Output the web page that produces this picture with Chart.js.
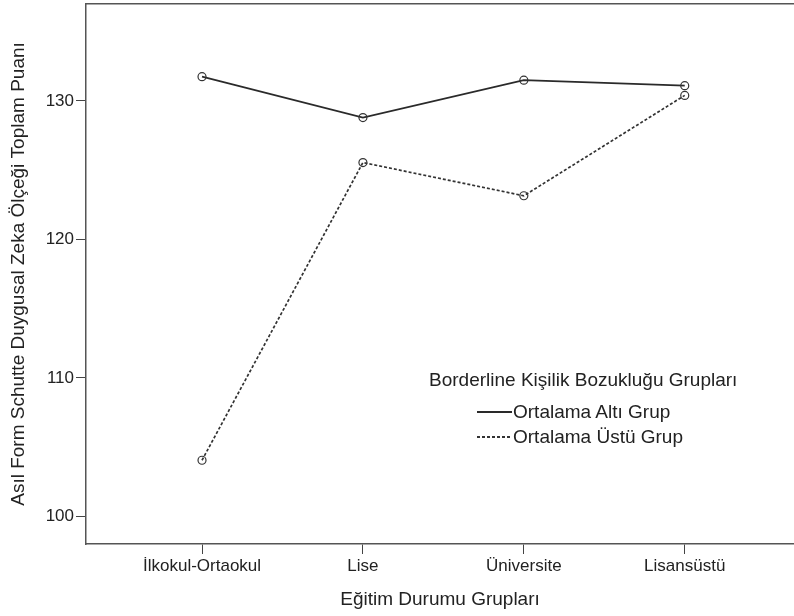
<!DOCTYPE html>
<html>
<head>
<meta charset="utf-8">
<script src="https://cdn.jsdelivr.net/npm/chart.js@4"></script>
<style>
  body { margin: 0; background: #fff; overflow: hidden; }
  #wrap { position: relative; width: 794px; height: 616px; }
  #legend {
    position: absolute; left: 429px; top: 369px;
    font-family: "Liberation Sans", Arial, sans-serif; font-size: 19px; color: #222;
  }
  #legend .title { line-height: 22px; margin-bottom: 8px; }
  #legend .row { display: flex; align-items: center; height: 25px; margin-left: 48px; }
  #legend .sample { width: 35px; height: 2px; margin-right: 1px; }
</style>
</head>
<body>
<div id="wrap">
  <canvas id="chart" width="794" height="616"></canvas>
  <div id="legend"></div>
</div>
<script>
const categories = ["İlkokul-Ortaokul", "Lise", "Üniversite", "Lisansüstü"];
const altiGrup = [131.75, 128.8, 131.5, 131.1];
const ustuGrup = [104.05, 125.55, 123.15, 130.4];
const yTicks = [100, 110, 120, 130];
const seriesNames = ["Ortalama Altı Grup", "Ortalama Üstü Grup"];
const legendTitle = "Borderline Kişilik Bozukluğu Grupları";

const FONT = "'Liberation Sans', Arial, sans-serif";
const ink = "#222";

function toPoints(values) {
  return values.map((v, i) => ({ x: i, y: v }));
}

// no automatic label padding, the plot edges are fixed
function noPad(scale) {
  scale.paddingTop = 0;
  scale.paddingBottom = 0;
  scale.paddingLeft = 0;
  scale.paddingRight = 0;
}

const chart = new Chart(document.getElementById("chart").getContext("2d"), {
  type: "line",
  data: {
    datasets: [
      {
        label: seriesNames[0],
        data: toPoints(altiGrup),
        borderColor: "#2a2a2a",
        borderWidth: 1.7,
        pointRadius: 4,
        pointBorderWidth: 1.2,
        pointBorderColor: "#333",
        pointBackgroundColor: "rgba(0,0,0,0)",
        tension: 0,
      },
      {
        label: seriesNames[1],
        data: toPoints(ustuGrup),
        borderColor: "#333",
        borderWidth: 1.7,
        borderDash: [3, 2],
        pointRadius: 4,
        pointBorderWidth: 1.2,
        pointBorderColor: "#333",
        pointBackgroundColor: "rgba(0,0,0,0)",
        tension: 0,
      },
    ],
  },
  options: {
    responsive: false,
    animation: false,
    layout: { autoPadding: false, padding: { top: 4, right: 0, left: 0, bottom: 0 } },
    plugins: { legend: { display: false }, tooltip: { enabled: false } },
    scales: {
      x: {
        type: "linear",
        position: "bottom",
        min: -0.721,
        max: 3.679,
        afterBuildTicks: (scale) => {
          scale.ticks = categories.map((c, i) => ({ value: i }));
        },
        afterFit: (scale) => {
          scale.height = 72;
          noPad(scale);
        },
        ticks: {
          callback: (v) => categories[v],
          font: { family: FONT, size: 17 },
          color: ink,
          padding: 2,
          maxRotation: 0,
          autoSkip: false,
        },
        grid: { drawOnChartArea: false, drawTicks: true, tickLength: 10, color: "#444" },
        border: { display: true, color: "#555", width: 1.5 },
        title: {
          display: true,
          text: "Eğitim Durumu Grupları",
          font: { family: FONT, size: 19 },
          color: ink,
          padding: { top: 0, bottom: 5 },
        },
      },
      xTop: {
        type: "linear",
        position: "top",
        min: -0.721,
        max: 3.679,
        afterFit: (scale) => {
          scale.height = 0;
          noPad(scale);
        },
        ticks: { display: false },
        grid: { drawOnChartArea: false, drawTicks: false },
        border: { display: true, color: "#555", width: 1.5 },
      },
      y: {
        min: 98,
        max: 137,
        afterBuildTicks: (scale) => {
          scale.ticks = yTicks.map((v) => ({ value: v }));
        },
        afterFit: (scale) => {
          scale.width = 86;
          noPad(scale);
        },
        ticks: {
          font: { family: FONT, size: 17 },
          color: ink,
          padding: 2,
        },
        grid: { drawOnChartArea: false, drawTicks: true, tickLength: 10, color: "#444" },
        border: { display: true, color: "#555", width: 1.5 },
        title: {
          display: true,
          text: "Asıl Form Schutte Duygusal Zeka Ölçeği Toplam Puanı",
          font: { family: FONT, size: 19 },
          color: ink,
          padding: { top: 7, bottom: 0 },
        },
      },
    },
  },
});

// legend placed inside the plot like the original
const legendEl = document.getElementById("legend");
const t = document.createElement("div");
t.className = "title";
t.textContent = legendTitle;
legendEl.appendChild(t);
chart.data.datasets.forEach((ds) => {
  const row = document.createElement("div");
  row.className = "row";
  const s = document.createElement("span");
  s.className = "sample";
  s.style.background = ds.borderDash
    ? "repeating-linear-gradient(90deg, #333 0 3px, transparent 3px 5px)"
    : "#2a2a2a";
  const label = document.createElement("span");
  label.textContent = ds.label;
  row.appendChild(s);
  row.appendChild(label);
  legendEl.appendChild(row);
});
</script>
</body>
</html>
